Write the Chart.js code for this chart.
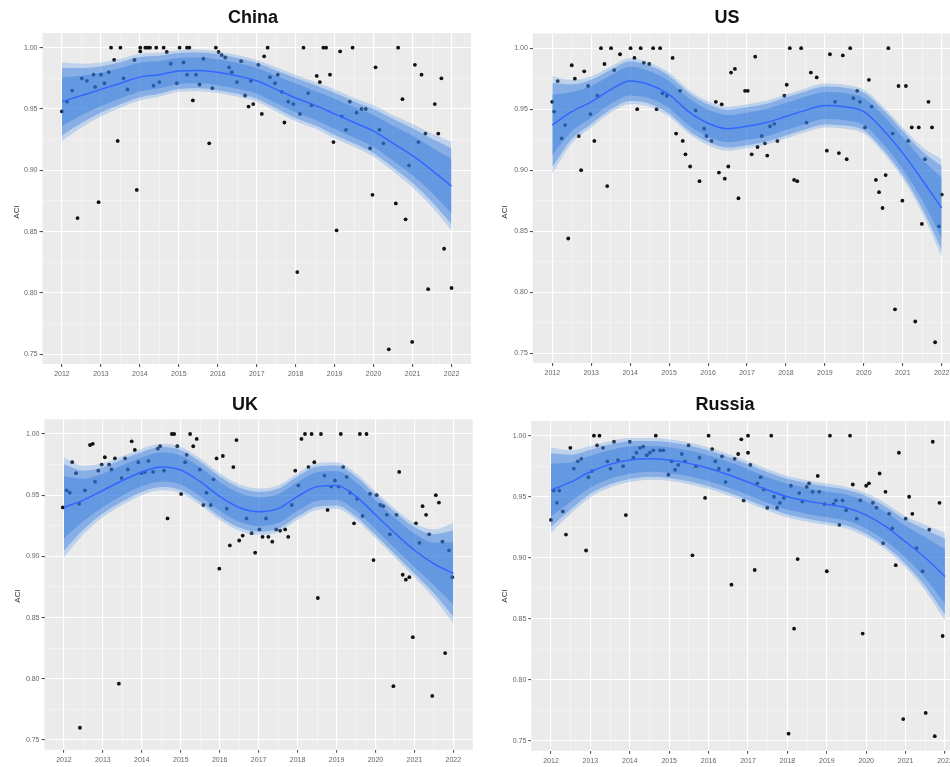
<!DOCTYPE html>
<html><head><meta charset="utf-8">
<script src="https://cdn.jsdelivr.net/npm/chart.js@4.4.1/dist/chart.umd.min.js"></script>
<style>
html,body{margin:0;padding:0;background:#fff;width:950px;height:767px;overflow:hidden;position:relative;}
.p{position:absolute;}
canvas{display:block;}
</style></head><body>
<div class="p" style="left:0;top:0"><canvas id="cChina" width="478" height="385"></canvas></div>
<div class="p" style="left:480px;top:0"><canvas id="cUS" width="490" height="385"></canvas></div>
<div class="p" style="left:0;top:385px"><canvas id="cUK" width="478" height="382"></canvas></div>
<div class="p" style="left:480px;top:385px"><canvas id="cRussia" width="490" height="382"></canvas></div>
<script>
// ---------- data ----------
const panelNames = ["China", "US", "UK", "Russia"];
const xTickLabels = [2012, 2013, 2014, 2015, 2016, 2017, 2018, 2019, 2020, 2021, 2022];
const yTickValues = [0.75, 0.80, 0.85, 0.90, 0.95, 1.00];
const X_MIN = 2011.5, X_MAX = 2022.5, Y_MIN = 0.742, Y_MAX = 1.012;

// knots of the fitted smooth (every half year)
const knotYears = [2012, 2012.5, 2013, 2013.5, 2014, 2014.5, 2015, 2015.5, 2016, 2016.5, 2017, 2017.5, 2018, 2018.5, 2019, 2019.5, 2020, 2020.5, 2021, 2021.5, 2022];

const chinaFit = [0.956, 0.961, 0.966, 0.971, 0.976, 0.978, 0.981, 0.9815, 0.980, 0.977, 0.973, 0.966, 0.959, 0.953, 0.946, 0.939, 0.932, 0.922, 0.912, 0.900, 0.887];
const chinaSE  = [0.032, 0.026, 0.022, 0.020, 0.019, 0.018, 0.017, 0.017, 0.017, 0.017, 0.017, 0.018, 0.019, 0.019, 0.020, 0.020, 0.021, 0.023, 0.026, 0.030, 0.036];
const usFit    = [0.937, 0.948, 0.956, 0.966, 0.973, 0.970, 0.962, 0.948, 0.9385, 0.934, 0.936, 0.939, 0.944, 0.949, 0.953, 0.952, 0.948, 0.933, 0.914, 0.892, 0.869];
const usSE     = [0.040, 0.026, 0.021, 0.019, 0.019, 0.018, 0.018, 0.018, 0.018, 0.018, 0.018, 0.018, 0.018, 0.018, 0.018, 0.018, 0.018, 0.019, 0.021, 0.027, 0.040];
const ukFit    = [0.940, 0.946, 0.954, 0.962, 0.969, 0.973, 0.9706, 0.961, 0.949, 0.940, 0.9365, 0.939, 0.949, 0.957, 0.958, 0.949, 0.934, 0.919, 0.905, 0.894, 0.886];
const ukSE     = [0.041, 0.028, 0.022, 0.020, 0.019, 0.019, 0.019, 0.019, 0.019, 0.019, 0.019, 0.019, 0.019, 0.019, 0.019, 0.019, 0.019, 0.020, 0.022, 0.028, 0.041];
const ruFit    = [0.9555, 0.962, 0.9705, 0.9765, 0.980, 0.981, 0.980, 0.9773, 0.9733, 0.968, 0.962, 0.9555, 0.950, 0.9465, 0.9438, 0.941, 0.935, 0.9255, 0.913, 0.900, 0.8846];
const ruSE     = [0.035, 0.026, 0.021, 0.019, 0.018, 0.017, 0.017, 0.017, 0.017, 0.017, 0.017, 0.017, 0.017, 0.017, 0.017, 0.017, 0.018, 0.019, 0.021, 0.027, 0.036];

const chinaYear = [2012.00,2012.13,2012.26,2012.40,2012.51,2012.64,2012.81,2012.85,2012.94,2013.00,
2013.09,2013.20,2013.26,2013.34,2013.43,2013.50,2013.58,2013.68,2013.86,2013.92,
2014.01,2014.01,2014.14,2014.20,2014.26,2014.35,2014.42,2014.50,2014.61,2014.69,
2014.79,2014.95,2015.02,2015.12,2015.21,2015.21,2015.27,2015.36,2015.44,2015.53,
2015.63,2015.78,2015.86,2015.95,2016.02,2016.10,2016.19,2016.29,2016.36,2016.49,
2016.60,2016.70,2016.79,2016.85,2016.91,2017.04,2017.13,2017.19,2017.28,2017.34,
2017.47,2017.54,2017.64,2017.71,2017.81,2017.94,2018.04,2018.11,2018.20,2018.32,
2018.41,2018.54,2018.62,2018.71,2018.78,2018.88,2018.97,2019.05,2019.14,2019.18,
2019.29,2019.39,2019.46,2019.56,2019.69,2019.80,2019.91,2019.97,2020.05,2020.15,
2020.25,2020.39,2020.57,2020.63,2020.74,2020.82,2020.91,2020.99,2021.06,2021.15,
2021.23,2021.33,2021.40,2021.57,2021.66,2021.74,2021.81,2022.00];
const chinaACI = [0.948,0.956,0.965,0.861,0.975,0.973,0.978,0.968,0.874,0.978,
0.971,0.980,1.000,0.990,0.924,1.000,0.975,0.966,0.990,0.884,
0.997,1.000,1.000,1.000,1.000,0.969,1.000,0.972,1.000,0.9965,
0.987,0.971,1.000,0.988,1.000,0.978,1.000,0.957,0.978,0.970,
0.991,0.922,0.967,1.000,0.9965,0.994,0.992,0.984,0.980,0.972,
0.989,0.961,0.952,0.973,0.954,0.986,0.946,0.993,1.000,0.976,
0.971,0.978,0.964,0.939,0.956,0.954,0.817,0.946,1.000,0.963,
0.953,0.977,0.972,1.000,1.000,0.978,0.923,0.851,0.997,0.944,
0.933,0.956,1.000,0.947,0.950,0.950,0.918,0.880,0.984,0.933,
0.922,0.754,0.873,1.000,0.958,0.860,0.904,0.760,0.986,0.923,
0.978,0.930,0.803,0.954,0.930,0.975,0.836,0.804];

const usYear = [2012.00,2012.05,2012.14,2012.24,2012.33,2012.41,2012.50,2012.58,2012.68,2012.74,
2012.82,2012.92,2012.98,2013.08,2013.16,2013.25,2013.34,2013.41,2013.51,2013.59,
2013.74,2014.01,2014.11,2014.18,2014.27,2014.35,2014.49,2014.59,2014.68,2014.77,
2014.83,2014.94,2015.09,2015.18,2015.28,2015.35,2015.42,2015.54,2015.68,2015.78,
2015.90,2015.96,2016.09,2016.20,2016.28,2016.35,2016.43,2016.52,2016.59,2016.69,
2016.78,2016.95,2017.02,2017.12,2017.21,2017.27,2017.38,2017.46,2017.52,2017.59,
2017.70,2017.78,2017.96,2018.02,2018.10,2018.21,2018.29,2018.39,2018.53,2018.64,
2018.79,2019.05,2019.13,2019.26,2019.36,2019.46,2019.56,2019.65,2019.73,2019.83,
2019.90,2020.03,2020.13,2020.20,2020.31,2020.39,2020.48,2020.56,2020.63,2020.74,
2020.80,2020.89,2020.99,2021.08,2021.14,2021.23,2021.32,2021.41,2021.49,2021.57,
2021.66,2021.75,2021.83,2021.93,2022.00];
const usACI = [0.956,0.948,0.973,0.926,0.937,0.844,0.986,0.975,0.928,0.900,
0.981,0.969,0.946,0.924,0.961,1.000,0.987,0.887,1.000,0.982,
0.995,1.000,0.992,0.950,1.000,0.988,0.987,1.000,0.950,1.000,
0.963,0.961,0.992,0.930,0.965,0.924,0.913,0.903,0.949,0.891,
0.934,0.928,0.924,0.956,0.898,0.954,0.893,0.903,0.980,0.983,
0.877,0.965,0.965,0.913,0.993,0.919,0.928,0.922,0.912,0.936,
0.938,0.924,0.961,0.970,1.000,0.892,0.891,1.000,0.939,0.980,
0.976,0.916,0.995,0.956,0.914,0.994,0.909,1.000,0.959,0.965,
0.956,0.935,0.974,0.952,0.892,0.882,0.869,0.896,1.000,0.930,
0.786,0.969,0.875,0.969,0.924,0.935,0.776,0.935,0.856,0.909,
0.956,0.935,0.759,0.854,0.880];

const ukYear = [2011.97,2012.07,2012.15,2012.21,2012.31,2012.39,2012.41,2012.54,2012.67,2012.74,
2012.80,2012.88,2012.97,2013.05,2013.16,2013.22,2013.31,2013.41,2013.48,2013.57,
2013.64,2013.74,2013.82,2013.91,2013.99,2014.08,2014.17,2014.29,2014.41,2014.47,
2014.57,2014.66,2014.77,2014.83,2014.91,2015.01,2015.11,2015.15,2015.24,2015.32,
2015.41,2015.49,2015.58,2015.66,2015.77,2015.84,2015.92,2015.99,2016.08,2016.18,
2016.26,2016.35,2016.43,2016.50,2016.59,2016.69,2016.82,2016.91,2017.02,2017.10,
2017.19,2017.25,2017.35,2017.45,2017.55,2017.68,2017.76,2017.85,2017.94,2018.02,
2018.10,2018.19,2018.28,2018.36,2018.43,2018.52,2018.60,2018.69,2018.77,2018.86,
2018.96,2019.05,2019.11,2019.17,2019.26,2019.35,2019.45,2019.53,2019.60,2019.67,
2019.77,2019.86,2019.95,2020.03,2020.12,2020.20,2020.29,2020.37,2020.46,2020.54,
2020.61,2020.70,2020.78,2020.87,2020.96,2021.04,2021.13,2021.21,2021.30,2021.38,
2021.46,2021.55,2021.63,2021.72,2021.79,2021.89,2021.97];
const ukACI = [0.940,0.954,0.952,0.977,0.968,0.943,0.760,0.954,0.991,0.992,
0.961,0.970,0.975,0.981,0.975,0.971,0.980,0.796,0.964,0.980,
0.971,0.994,0.987,0.977,0.968,0.969,0.978,0.969,0.988,0.990,
0.970,0.931,1.000,1.000,0.990,0.951,0.977,0.983,1.000,0.990,
0.996,0.971,0.942,0.952,0.942,0.963,0.980,0.890,0.982,0.939,
0.909,0.973,0.995,0.913,0.917,0.931,0.919,0.903,0.922,0.916,
0.931,0.916,0.912,0.922,0.921,0.922,0.916,0.942,0.970,0.958,
0.996,1.000,0.973,1.000,0.977,0.866,1.000,0.966,0.938,0.957,
0.962,0.957,1.000,0.973,0.965,0.952,0.927,0.947,1.000,0.933,
1.000,0.951,0.897,0.950,0.942,0.941,0.934,0.918,0.794,0.934,
0.969,0.885,0.881,0.883,0.834,0.927,0.911,0.941,0.934,0.918,
0.786,0.950,0.944,0.912,0.821,0.905,0.883];

const ruYear = [2012.00,2012.07,2012.15,2012.21,2012.30,2012.38,2012.49,2012.58,2012.68,2012.77,
2012.89,2012.95,2013.04,2013.09,2013.17,2013.23,2013.32,2013.43,2013.51,2013.60,
2013.70,2013.83,2013.90,2014.00,2014.09,2014.17,2014.26,2014.34,2014.43,2014.51,
2014.60,2014.66,2014.77,2014.85,2014.98,2015.06,2015.15,2015.23,2015.32,2015.40,
2015.49,2015.59,2015.68,2015.77,2015.91,2016.00,2016.09,2016.17,2016.26,2016.34,
2016.43,2016.51,2016.58,2016.66,2016.75,2016.83,2016.89,2017.00,2017.00,2017.06,
2017.17,2017.24,2017.32,2017.40,2017.49,2017.59,2017.66,2017.74,2017.81,2017.91,
2018.03,2018.09,2018.17,2018.26,2018.30,2018.38,2018.49,2018.55,2018.64,2018.77,
2018.81,2018.94,2019.00,2019.08,2019.17,2019.23,2019.32,2019.40,2019.49,2019.59,
2019.66,2019.76,2019.85,2019.91,2020.00,2020.07,2020.17,2020.26,2020.34,2020.43,
2020.49,2020.58,2020.66,2020.75,2020.83,2020.94,2021.00,2021.09,2021.17,2021.28,
2021.43,2021.51,2021.60,2021.69,2021.74,2021.86,2021.94];
const ruACI = [0.931,0.955,0.945,0.955,0.938,0.919,0.990,0.973,0.979,0.981,
0.906,0.966,0.971,1.000,0.992,1.000,0.990,0.979,0.973,0.995,
0.980,0.975,0.935,0.995,0.982,0.986,0.990,0.991,0.984,0.986,
0.988,1.000,0.988,0.988,0.968,0.979,0.972,0.976,0.985,0.979,
0.992,0.902,0.975,0.982,0.949,1.000,0.989,0.979,0.973,0.983,
0.962,0.972,0.878,0.981,0.985,0.997,0.947,1.000,0.986,0.976,
0.890,0.961,0.966,0.956,0.941,1.000,0.950,0.941,0.945,0.949,
0.756,0.959,0.842,0.899,0.953,0.946,0.958,0.961,0.954,0.967,
0.954,0.944,0.889,1.000,0.944,0.947,0.927,0.947,0.939,1.000,
0.960,0.932,0.947,0.838,0.959,0.961,0.945,0.941,0.969,0.912,
0.954,0.936,0.924,0.894,0.986,0.768,0.932,0.950,0.936,0.908,
0.889,0.773,0.923,0.995,0.754,0.945,0.836];

// ---------- drawing ----------
const FONT = '"Liberation Sans", Arial, sans-serif';
const BAND = 'rgba(40,115,220,0.36)';
const FRINGE = 'rgba(95,160,235,0.32)';
const isMajorX = v => Math.abs(v - Math.round(v)) < 1e-6;
const isMajorY = v => Math.abs(v * 20 - Math.round(v * 20)) < 1e-6;
const xGrid = [];
xTickLabels.forEach((v, i) => { xGrid.push(v); if (i < xTickLabels.length - 1) xGrid.push((v + xTickLabels[i + 1]) / 2); });
const yGrid = [];
yTickValues.forEach((v, i) => { yGrid.push(v); if (i < yTickValues.length - 1) yGrid.push((v + yTickValues[i + 1]) / 2); });

const panelDecor = {
  id: 'panelDecor',
  beforeDraw(chart, args, o) {
    const a = chart.chartArea, ctx = chart.ctx;
    ctx.save();
    ctx.fillStyle = '#ebebeb';
    ctx.fillRect(a.left, a.top, a.right - a.left, a.bottom - a.top);
    ctx.restore();
  },
  afterDraw(chart, args, o) {
    const ctx = chart.ctx;
    ctx.save();
    ctx.fillStyle = '#111';
    ctx.font = 'bold 18px ' + FONT;
    ctx.textAlign = 'center';
    ctx.textBaseline = 'middle';
    ctx.fillText(o.title, o.titleX, o.titleY);
    ctx.translate(o.aciX, o.aciY);
    ctx.rotate(-Math.PI / 2);
    ctx.font = '8px ' + FONT;
    ctx.fillStyle = '#333';
    ctx.fillText('ACI', 0, 0);
    ctx.restore();
  }
};

function makePanel(id, name, years, aci, fit, se, g) {
  const band = (k, s) => knotYears.map((x, i) => ({ x: x, y: fit[i] + s * k * se[i] }));
  const lineCommon = { pointRadius: 0, borderWidth: 0, borderColor: 'rgba(0,0,0,0)', cubicInterpolationMode: 'monotone' };
  const datasets = [
    Object.assign({ data: knotYears.map((x, i) => ({ x: x, y: fit[i] })), fill: false, order: 0 }, lineCommon, { borderWidth: 1.5, borderColor: '#3366ff' }),
    Object.assign({ data: band(0.62, 1), fill: '+1', backgroundColor: BAND, order: 1 }, lineCommon),
    Object.assign({ data: band(0.62, -1), fill: false, order: 1 }, lineCommon),
    Object.assign({ data: band(0.86, 1), fill: '+1', backgroundColor: BAND, order: 2 }, lineCommon),
    Object.assign({ data: band(0.86, -1), fill: false, order: 2 }, lineCommon),
    Object.assign({ data: band(1.0, 1), fill: '+1', backgroundColor: FRINGE, order: 3 }, lineCommon),
    Object.assign({ data: band(1.0, -1), fill: false, order: 3 }, lineCommon),
    { data: years.map((x, i) => ({ x: x, y: aci[i] })), showLine: false, pointRadius: 1.9, pointHoverRadius: 1.9,
      pointBackgroundColor: '#111', pointBorderWidth: 0, borderColor: '#111', order: 10 }
  ];
  new Chart(document.getElementById(id), {
    type: 'line',
    data: { datasets: datasets },
    plugins: [panelDecor],
    options: {
      responsive: false, animation: false, devicePixelRatio: 1,
      layout: { padding: { left: 0, right: g.padR, top: g.padT, bottom: 0 } },
      plugins: {
        legend: { display: false }, tooltip: { enabled: false }, title: { display: false },
        panelDecor: { title: name, titleX: g.titleX, titleY: g.titleY, aciX: g.aciX, aciY: g.aciY }
      },
      scales: {
        x: {
          type: 'linear', min: X_MIN, max: X_MAX,
          afterBuildTicks: s => { s.ticks = xGrid.map(v => ({ value: v })); },
          afterFit: s => { s.height = g.xH; },
          border: { display: false },
          grid: {
            color: c => (c.tick && isMajorX(c.tick.value)) ? '#ffffff' : 'rgba(255,255,255,0.65)',
            lineWidth: c => (c.tick && isMajorX(c.tick.value)) ? 1.1 : 0.55,
            tickColor: c => (c.tick && isMajorX(c.tick.value)) ? '#555' : 'rgba(0,0,0,0)',
            tickLength: 3, drawTicks: true
          },
          ticks: { autoSkip: false, maxRotation: 0, minRotation: 0, padding: 3, color: '#666',
            font: { size: 7, family: FONT }, callback: v => isMajorX(v) ? String(Math.round(v)) : '' }
        },
        y: {
          type: 'linear', min: Y_MIN, max: Y_MAX,
          afterBuildTicks: s => { s.ticks = yGrid.map(v => ({ value: v })); },
          afterFit: s => { s.width = g.yW; },
          border: { display: false },
          grid: {
            color: c => (c.tick && isMajorY(c.tick.value)) ? '#ffffff' : 'rgba(255,255,255,0.65)',
            lineWidth: c => (c.tick && isMajorY(c.tick.value)) ? 1.1 : 0.55,
            tickColor: c => (c.tick && isMajorY(c.tick.value)) ? '#555' : 'rgba(0,0,0,0)',
            tickLength: 3, drawTicks: true
          },
          ticks: { autoSkip: false, padding: 2, color: '#666',
            font: { size: 7, family: FONT }, callback: v => isMajorY(v) ? v.toFixed(2) : '' }
        }
      }
    }
  });
}

makePanel('cChina', panelNames[0], chinaYear, chinaACI, chinaFit, chinaSE,
  { yW: 42.5, padR: 7, padT: 33, xH: 21, titleX: 253, titleY: 18, aciX: 17, aciY: 212 });
makePanel('cUS', panelNames[1], usYear, usACI, usFit, usSE,
  { yW: 52.8, padR: 8.8, padT: 33.5, xH: 22, titleX: 247, titleY: 18, aciX: 25, aciY: 212 });
makePanel('cUK', panelNames[2], ukYear, ukACI, ukFit, ukSE,
  { yW: 44.5, padR: 5.2, padT: 34.3, xH: 17.2, titleX: 245, titleY: 20, aciX: 18, aciY: 211 });
makePanel('cRussia', panelNames[3], ruYear, ruACI, ruFit, ruSE,
  { yW: 51.3, padR: 5.3, padT: 36, xH: 16.2, titleX: 245, titleY: 20, aciX: 25, aciY: 211 });
</script>
</body></html>
